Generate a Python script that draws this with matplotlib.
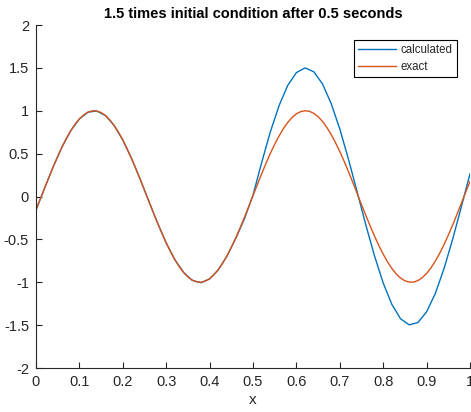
import numpy as np
import matplotlib
matplotlib.use("Agg")
import matplotlib.pyplot as plt

plt.rcParams['font.family'] = ['Liberation Sans', 'DejaVu Sans']

# numerical solution on the coarse grid (dx = 0.02)
x_calc = np.linspace(0, 1, 51)
calculated = [-0.157, 0.100, 0.351, 0.578, 0.767, 0.905, 0.984, 0.997, 0.944, 0.829,
              0.659, 0.445, 0.202, -0.055, -0.308, -0.541, -0.737, -0.885, -0.978, -1.005,
              -0.962, -0.855, -0.695, -0.492, -0.262, 0.015, 0.397, 0.754, 1.059, 1.295,
              1.445, 1.500, 1.455, 1.314, 1.086, 0.787, 0.434, 0.053, -0.332, -0.693,
              -1.009, -1.259, -1.426, -1.497, -1.470, -1.345, -1.132, -0.843, -0.499, -0.121,
              0.265]

# exact solution on a finer grid (dx = 0.01)
x_exact = np.linspace(0, 1, 101)
exact = [-0.157, -0.029, 0.100, 0.227, 0.351, 0.468, 0.578, 0.678, 0.767, 0.843,
         0.905, 0.952, 0.984, 0.999, 0.997, 0.979, 0.944, 0.894, 0.829, 0.750,
         0.659, 0.556, 0.445, 0.326, 0.202, 0.074, -0.055, -0.183, -0.308, -0.428,
         -0.541, -0.644, -0.737, -0.818, -0.885, -0.938, -0.975, -0.995, -1.000, -0.987,
         -0.958, -0.913, -0.853, -0.779, -0.692, -0.593, -0.486, -0.369, -0.246, -0.119,
         0.010, 0.138, 0.265, 0.387, 0.503, 0.609, 0.706, 0.791, 0.863, 0.921,
         0.964, 0.990, 1.000, 0.993, 0.970, 0.931, 0.876, 0.807, 0.724, 0.629,
         0.524, 0.411, 0.289, 0.164, 0.035, -0.094, -0.221, -0.344, -0.462, -0.573,
         -0.672, -0.763, -0.839, -0.903, -0.951, -0.983, -0.998, -0.998, -0.980, -0.946,
         -0.897, -0.833, -0.754, -0.664, -0.562, -0.451, -0.333, -0.208, -0.080, 0.049,
         0.176]

xticks = [0, 0.1, 0.2, 0.3, 0.4, 0.5, 0.6, 0.7, 0.8, 0.9, 1]
xticklabels = ['0', '0.1', '0.2', '0.3', '0.4', '0.5', '0.6', '0.7', '0.8', '0.9', '1']
yticks = [-2, -1.5, -1, -0.5, 0, 0.5, 1, 1.5, 2]
yticklabels = ['-2', '-1.5', '-1', '-0.5', '0', '0.5', '1', '1.5', '2']

axcol = '#262626'

fig = plt.figure(figsize=(4.71, 4.12), dpi=100)
ax = fig.add_axes([36 / 471, 44 / 412, 434 / 471, 343 / 412])

ax.plot(x_calc, calculated, color='#0072BD', lw=1.0, label='calculated')
ax.plot(x_exact, exact, color='#D95319', lw=1.0, label='exact')

ax.set_xlim(0, 1)
ax.set_ylim(-2, 2)
ax.set_xticks(xticks)
ax.set_xticklabels(xticklabels)
ax.set_yticks(yticks)
ax.set_yticklabels(yticklabels)
ax.tick_params(direction='in', length=4, width=0.8, colors=axcol, labelsize=10.5, pad=5)

for side in ['top', 'right']:
    ax.spines[side].set_visible(False)
for side in ['left', 'bottom']:
    ax.spines[side].set_color(axcol)
    ax.spines[side].set_linewidth(0.8)

ax.set_xlabel('x', fontsize=11, color=axcol, labelpad=3)
ax.set_title('1.5 times initial condition after 0.5 seconds', fontsize=10.5,
             fontweight='bold', color='black', pad=5)

leg = ax.legend(loc='upper right', bbox_to_anchor=(0.970, 0.956), fontsize=8.3,
                handlelength=3.3, handletextpad=0.4, labelspacing=0.45,
                borderpad=0.35, borderaxespad=0, fancybox=False, framealpha=1)
leg.get_frame().set_edgecolor('black')
leg.get_frame().set_linewidth(0.8)
for t in leg.get_texts():
    t.set_color(axcol)

fig.savefig('out.png', dpi=100)
